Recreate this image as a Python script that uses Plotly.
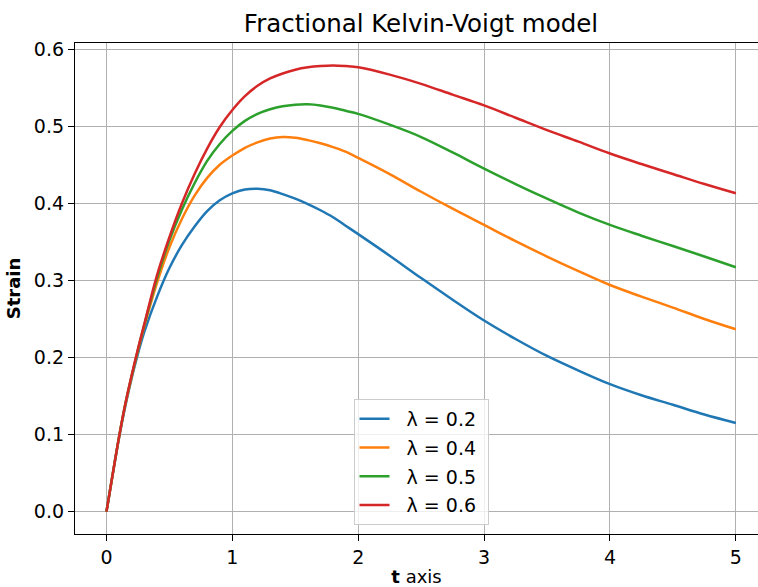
import plotly.graph_objects as go

t = [0.0, 0.05, 0.1, 0.15, 0.2, 0.25, 0.3, 0.4, 0.5, 0.6, 0.7, 0.8, 0.9, 1.0,
     1.1, 1.2, 1.3, 1.4, 1.5, 1.6, 1.7, 1.8, 1.9, 2.0, 2.25, 2.5, 2.75, 3.0,
     3.25, 3.5, 3.75, 4.0, 4.25, 4.5, 4.75, 5.0]

strain_02 = [0.0, 0.049, 0.096, 0.137, 0.173, 0.205, 0.233, 0.278, 0.316, 0.346, 0.370, 0.390, 0.404, 0.413,
             0.418, 0.419, 0.417, 0.412, 0.406, 0.399, 0.391, 0.382, 0.371, 0.360, 0.332, 0.303, 0.275, 0.248,
             0.224, 0.202, 0.183, 0.1654, 0.151, 0.1386, 0.126, 0.115]
strain_04 = [0.0, 0.049, 0.097, 0.139, 0.175, 0.209, 0.240, 0.296, 0.343, 0.380, 0.410, 0.433, 0.450, 0.462,
             0.472, 0.479, 0.484, 0.486, 0.485, 0.482, 0.478, 0.473, 0.467, 0.459, 0.438, 0.415, 0.393, 0.372,
             0.351, 0.331, 0.312, 0.294, 0.279, 0.2647, 0.250, 0.2366]
strain_05 = [0.0, 0.049, 0.097, 0.140, 0.176, 0.210, 0.242, 0.302, 0.352, 0.392, 0.426, 0.455, 0.477, 0.494,
             0.507, 0.516, 0.522, 0.526, 0.528, 0.5285, 0.527, 0.524, 0.520, 0.516, 0.502, 0.486, 0.466, 0.445,
             0.425, 0.406, 0.388, 0.372, 0.358, 0.3446, 0.331, 0.317]
strain_06 = [0.0, 0.049, 0.097, 0.140, 0.177, 0.211, 0.243, 0.306, 0.356, 0.400, 0.438, 0.471, 0.499, 0.521,
             0.539, 0.5525, 0.562, 0.5685, 0.5733, 0.5764, 0.5781, 0.5788, 0.578, 0.5765, 0.567, 0.555, 0.541, 0.527,
             0.511, 0.495, 0.480, 0.4646, 0.451, 0.438, 0.425, 0.413]

labels = ["λ = 0.2", "λ = 0.4", "λ = 0.5", "λ = 0.6"]
series = [strain_02, strain_04, strain_05, strain_06]
colors = ["#1f77b4", "#ff7f0e", "#2ca02c", "#d62728"]

FONT = "DejaVu Sans"
NB = "\u00a0"

fig = go.Figure()
for i, (lab, ys, c) in enumerate(zip(labels, series, colors)):
    fig.add_trace(go.Scatter(
        x=t, y=ys, mode="lines", name=NB + NB + lab + NB,
        line=dict(color=c, width=2.5, shape="spline", smoothing=1.0),
        legendgroup=f"g{i}",
    ))

fig.update_layout(
    width=758, height=587,
    margin=dict(l=75, r=0, t=43, b=53),
    paper_bgcolor="white", plot_bgcolor="white",
    font=dict(family=FONT, size=18, color="black"),
    title=dict(text="Fractional Kelvin-Voigt model", x=421 / 758, xanchor="center",
               y=1 - 23 / 587, yanchor="middle", font=dict(size=24.5, family=FONT)),
    showlegend=True,
    legend=dict(
        x=(421 - 75) / (758 - 75), xanchor="center",
        y=(534 - 525) / (534 - 43), yanchor="bottom",
        bgcolor="rgba(255,255,255,0.8)", bordercolor="#cccccc", borderwidth=1,
        font=dict(size=19, family=FONT), tracegroupgap=1,
    ),
)

fig.update_xaxes(
    range=[-0.25, 5.176], tickmode="linear", tick0=0, dtick=1,
    showgrid=True, gridcolor="#b0b0b0", gridwidth=1.2,
    showline=True, linecolor="black", linewidth=1.3, mirror=True,
    ticks="outside", ticklen=6, tickwidth=1.3, tickcolor="black",
    zeroline=False, tickfont=dict(size=19, family=FONT),
    title=dict(text="<b>t</b> axis", font=dict(size=18, family=FONT), standoff=6),
)
fig.update_yaxes(
    range=[-0.029, 0.608], tickmode="linear", tick0=0, dtick=0.1, tickformat=".1f",
    showgrid=True, gridcolor="#b0b0b0", gridwidth=1.2,
    showline=True, linecolor="black", linewidth=1.3, mirror=False,
    ticks="outside", ticklen=6, tickwidth=1.3, tickcolor="black",
    zeroline=False, tickfont=dict(size=19, family=FONT),
    title=dict(text="<b>Strain</b>", font=dict(size=18, family=FONT), standoff=8),
)

fig.write_html("out.html")
